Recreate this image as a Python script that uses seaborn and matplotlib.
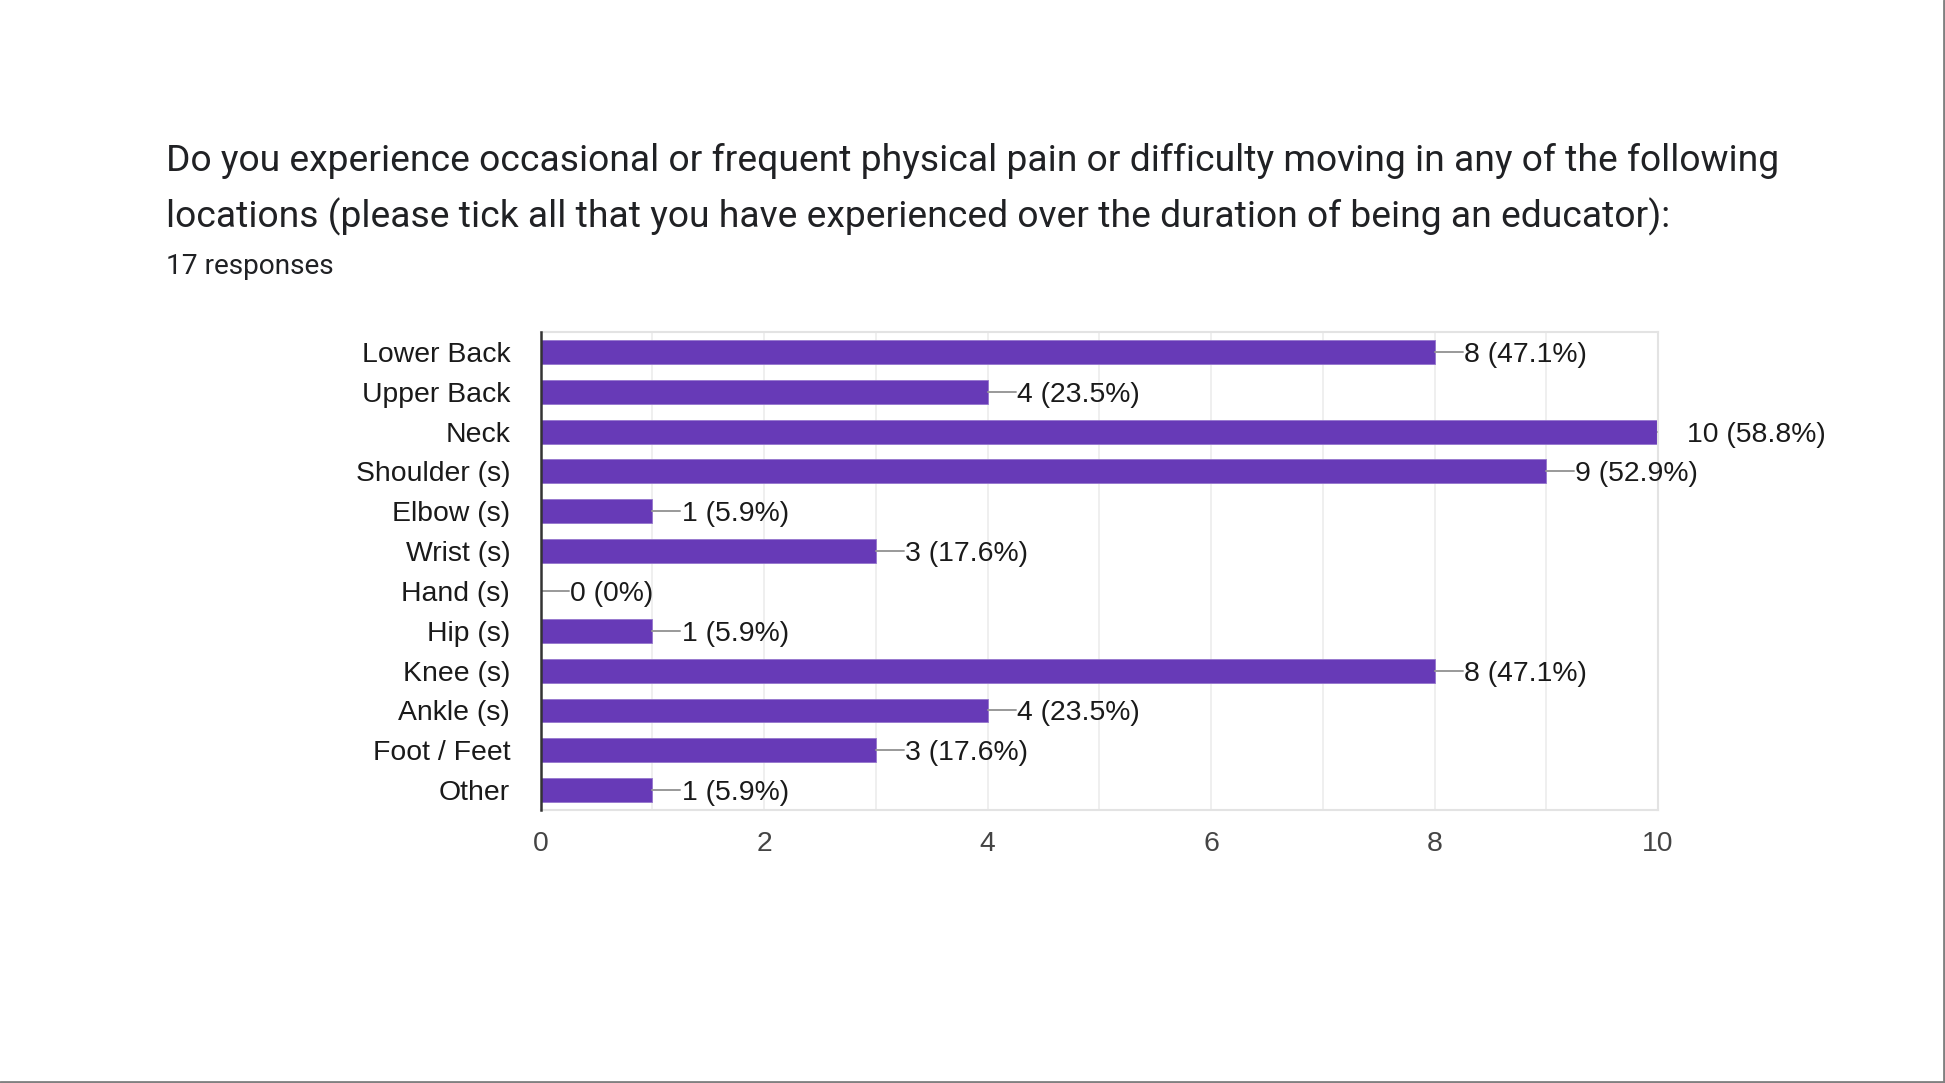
import matplotlib
matplotlib.use("Agg")
import matplotlib.pyplot as plt
from matplotlib.lines import Line2D
import pandas as pd
import seaborn as sns

# survey data
locations = ["Lower Back", "Upper Back", "Neck", "Shoulder (s)", "Elbow (s)", "Wrist (s)",
             "Hand (s)", "Hip (s)", "Knee (s)", "Ankle (s)", "Foot / Feet", "Other"]
counts = [8, 4, 10, 9, 1, 3, 0, 1, 8, 4, 3, 1]
percents = ["47.1%", "23.5%", "58.8%", "52.9%", "5.9%", "17.6%",
            "0%", "5.9%", "47.1%", "23.5%", "17.6%", "5.9%"]
x_ticks = [0, 2, 4, 6, 8, 10]

title_lines = ["Do you experience occasional or frequent physical pain or difficulty moving in any of the following",
               "locations (please tick all that you have experienced over the duration of being an educator):"]
subtitle = "17 responses"

sns.set_style("white")
plt.rcParams['font.family'] = ['Liberation Sans', 'DejaVu Sans']

df = pd.DataFrame({"location": locations, "count": counts})

fig = plt.figure(figsize=(19.45, 10.83), dpi=100)
ax = fig.add_axes([0.278, 0.252, 0.5745, 0.4415])

sns.barplot(data=df, y="location", x="count", orient="h", color="#673ab7",
            saturation=1, width=0.6, edgecolor="#9575cd", linewidth=0.6, ax=ax)

ax.set_xlim(0, 10)
ax.set_ylim(len(locations) - 0.5, -0.5)
ax.set_xlabel("")
ax.set_ylabel("")

# light vertical grid at every unit
for g in range(1, 10):
    ax.axvline(g, color="#ececec", lw=1.2, zorder=0)

for s in ["top", "right", "bottom"]:
    ax.spines[s].set_color("#e3e3e3")
    ax.spines[s].set_linewidth(1.5)
ax.spines["left"].set_color("#333333")
ax.spines["left"].set_linewidth(1.8)
ax.spines["left"].set_zorder(5)

ax.set_xticks(x_ticks)
ax.tick_params(axis="x", length=0, pad=15, labelsize=20.4, labelcolor="#444444")
ax.tick_params(axis="y", length=0, pad=22, labelsize=20.4, labelcolor="#1a1a1a")

# value labels with short connector
for i, (c, p) in enumerate(zip(counts, percents)):
    ax.add_line(Line2D([c, c + 0.25], [i, i], color="#999999", lw=1.4, zorder=4))
    ax.text(c + 0.26, i, f"{c} ({p})", va="center_baseline", ha="left", fontsize=20.4,
            color="#1a1a1a", clip_on=False)

fig.text(0.0853, 0.851, title_lines[0], fontsize=26.8, color="#202124",
         family=["Roboto", "DejaVu Sans"], va="center", ha="left")
fig.text(0.0853, 0.7995, title_lines[1], fontsize=26.8, color="#202124",
         family=["Roboto", "DejaVu Sans"], va="center", ha="left")
fig.text(0.0853, 0.754, subtitle, fontsize=20.2, color="#202124",
         family=["Roboto", "DejaVu Sans"], va="center", ha="left")

# card border at the right and bottom edges
fig.add_artist(Line2D([0.9993, 0.9993], [0, 1], transform=fig.transFigure, color="#808080", lw=2))
fig.add_artist(Line2D([0, 1], [0.0012, 0.0012], transform=fig.transFigure, color="#808080", lw=2))

fig.savefig("out.png", dpi=100, facecolor="white")
